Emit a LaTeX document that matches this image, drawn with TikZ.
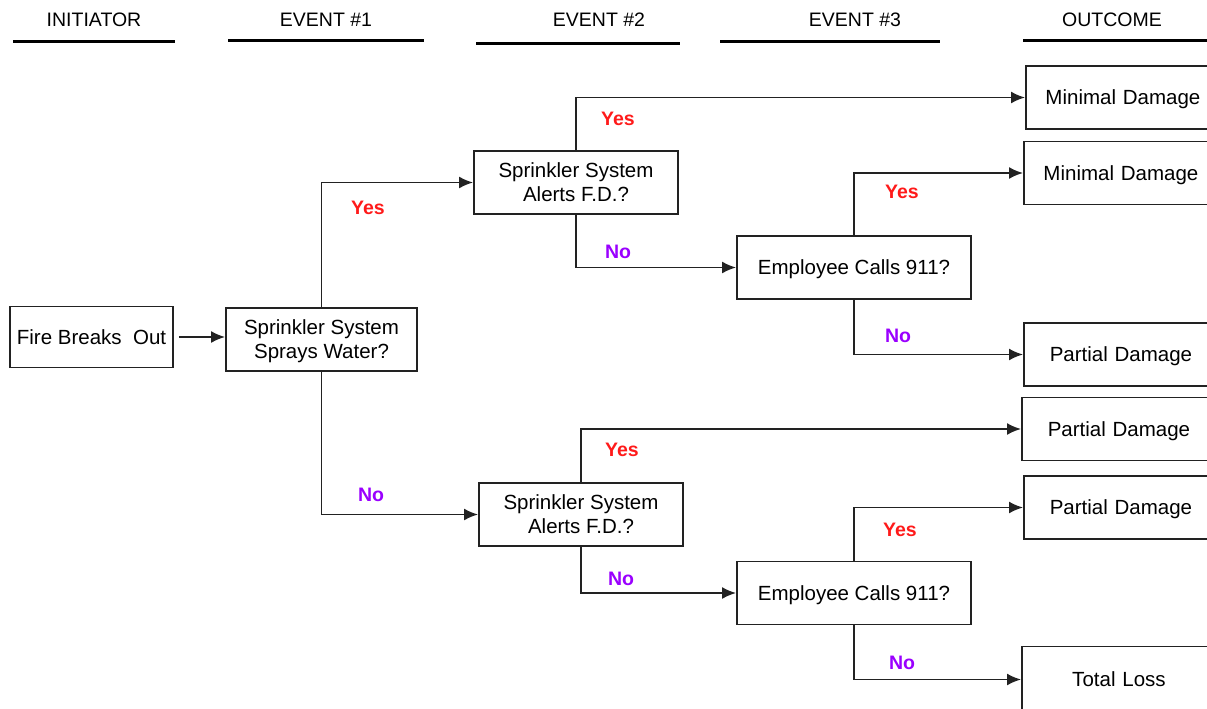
\documentclass[tikz,border=0pt]{standalone}
\usepackage{fontspec}
\setmainfont{Liberation Sans}
\usetikzlibrary{arrows.meta}
\definecolor{yescol}{HTML}{FF1A1A}
\definecolor{nocol}{HTML}{9A00FF}
\definecolor{edge}{HTML}{222222}
\newcommand\boxtext[1]{\raisebox{-2.6pt}[\height][\depth]{\begin{tabular}{@{}c@{}}#1\end{tabular}}}
\begin{document}
\begin{tikzpicture}[x=1pt,y=-1pt,
  every node/.style={font=\fontsize{19.5}{23}\selectfont},
  box/.style={draw=edge, line width=1.9pt, inner sep=0pt, font=\fontsize{20.5}{24}\selectfont},
  evbox/.style={box, minimum width=204pt, minimum height=63pt},
  emp/.style={box, minimum width=234pt, minimum height=63pt},
  outbox/.style={box, anchor=west, minimum width=194pt, minimum height=63pt, text width=194pt, align=center},
  conn/.style={draw=edge, line width=1.8pt, -{Latex[length=14pt,width=12pt]}},
  hdr/.style={},
  hline/.style={line width=3pt},
  yeslab/.style={text=yescol, font=\fontsize{19.5}{23}\selectfont\bfseries},
  nolab/.style={text=nocol, font=\fontsize{19.5}{23}\selectfont\bfseries}]
\useasboundingbox (0,0) rectangle (1207,709);
\clip (0,0) rectangle (1207,709);
% headers
\node[hdr] (h0) at (94,20) {INITIATOR};
\node[hdr] (h1) at (326,20) {EVENT \#1};
\node[hdr] (h2) at (599,20) {EVENT \#2};
\node[hdr] (h3) at (855,20) {EVENT \#3};
\node[hdr] (h4) at (1112,20) {OUTCOME};
\coordinate (l0a) at (13,42); \coordinate (l0b) at (175,42);
\coordinate (l1a) at (228,41); \coordinate (l1b) at (424,41);
\coordinate (l2a) at (476,44); \coordinate (l2b) at (680,44);
\coordinate (l3a) at (720,42); \coordinate (l3b) at (940,42);
\coordinate (l4a) at (1023,41); \coordinate (l4b) at (1210,41);
\draw[hline] (l0a) -- (l0b);
\draw[hline] (l1a) -- (l1b);
\draw[hline] (l2a) -- (l2b);
\draw[hline] (l3a) -- (l3b);
\draw[hline] (l4a) -- (l4b);
% boxes
\node[box, minimum width=163pt, minimum height=61pt] (fire) at (91.5,337) {\boxtext{Fire Breaks\ \ Out}};
\node[box, minimum width=191pt, minimum height=63pt] (spray) at (321.5,339.5) {\boxtext{Sprinkler System\\Sprays Water?}};
\node[evbox] (al1) at (576,182.5) {\boxtext{Sprinkler System\\Alerts F.D.?}};
\node[evbox] (al2) at (581,514.5) {\boxtext{Sprinkler System\\Alerts F.D.?}};
\node[emp] (em1) at (854,267.5) {\boxtext{Employee Calls 911?}};
\node[emp] (em2) at (854,593) {\boxtext{Employee Calls 911?}};
\node[outbox] (o1) at (1025,97.5) {\boxtext{Minimal Damage}};
\node[outbox] (o2) at (1023,173) {\boxtext{Minimal Damage}};
\node[outbox] (o3) at (1023,354.5) {\boxtext{Partial Damage}};
\node[outbox] (o4) at (1021,429) {\boxtext{Partial Damage}};
\node[outbox] (o5) at (1023,507.5) {\boxtext{Partial Damage}};
\node[outbox, minimum height=66pt] (o6) at (1021,679.5) {\boxtext{Total Loss}};
% connectors
\draw[conn] ([xshift=5pt]fire.east) -- (fire.east -| spray.west);
\draw[conn] (spray.north) |- (al1.west);
\draw[conn] (spray.south) |- (al2.west);
\draw[conn] (al1.north) |- (o1.west);
\draw[conn] (al1.south) |- (em1.west);
\draw[conn] (al2.north) |- (o4.west);
\draw[conn] (al2.south) |- (em2.west);
\draw[conn] (em1.north) |- (o2.west);
\draw[conn] (em1.south) |- (o3.west);
\draw[conn] (em2.north) |- (o5.west);
\draw[conn] (em2.south) |- (o6.west);
% labels
\node[yeslab] (y1) at (368,208) {Yes};
\node[nolab] (n1) at (371,495) {No};
\node[yeslab] (y2) at (618,119) {Yes};
\node[nolab] (n2) at (618,252) {No};
\node[yeslab] (y3) at (902,192) {Yes};
\node[nolab] (n3) at (898,336) {No};
\node[yeslab] (y4) at (622,450) {Yes};
\node[nolab] (n4) at (621,579) {No};
\node[yeslab] (y5) at (900,530) {Yes};
\node[nolab] (n5) at (902,663) {No};
\end{tikzpicture}
\end{document}
